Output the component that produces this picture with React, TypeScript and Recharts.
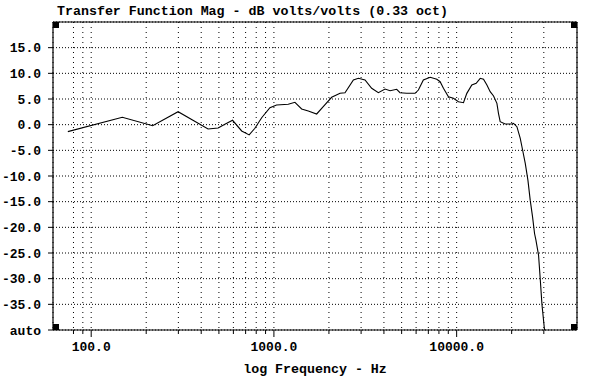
import {
  LineChart,
  Line,
  XAxis,
  YAxis,
  CartesianGrid,
  ReferenceLine,
  ReferenceDot,
} from 'recharts';

// frequency (Hz) and magnitude (dB)
const freqHz = [
  74.5, 148, 217, 299, 436, 495, 539, 594, 666, 732, 787, 857, 951, 1034, 1198,
  1303, 1418, 1542, 1714, 1862, 2070, 2301, 2449, 2722, 2899, 3152, 3428, 3729,
  4057, 4322, 4699, 4898, 5331, 5925, 6176, 6574, 7167, 7790, 8122, 8468, 9018,
  9605, 10230, 10900, 11370, 12108, 12790, 13460, 14030, 14643, 15260, 15923,
  16610, 16940, 17310, 18440, 20070, 20480, 21370, 22290, 22770, 23730, 24550,
  25270, 26020, 26690, 27160, 28070, 28680, 29300, 30170, 30500,
];
const magDb = [
  -1.35, 1.43, -0.2, 2.53, -0.85, -0.65, 0.07, 0.85, -1.23, -2.0, -0.7, 1.35,
  3.3, 3.83, 3.97, 4.36, 3.05, 2.66, 2.08, 3.5, 5.33, 6.11, 6.23, 8.7, 9.03,
  8.7, 7.08, 6.23, 6.94, 6.62, 6.89, 6.23, 6.11, 6.11, 6.75, 8.7, 9.23, 8.84,
  8.37, 7.08, 5.45, 5.13, 4.47, 4.28, 6.1, 7.73, 8.06, 9.03, 8.84, 7.73, 6.43,
  5.58, 4.16, 2.2, 0.58, 0.13, 0.13, 0.26, -0.4, -2.66, -4.3, -7.5, -10.8,
  -14.7, -17.9, -21.2, -22.5, -25.4, -30.1, -35, -39.5, -41,
];

const gridFreqs = [
  80, 90, 100, 200, 300, 400, 500, 600, 700, 800, 900, 1000, 2000, 3000, 4000,
  5000, 6000, 7000, 8000, 9000, 10000, 20000, 30000,
];
const labelFreqs = [100, 1000, 10000];
const dbTicks = [-40, -35, -30, -25, -20, -15, -10, -5, 0, 5, 10, 15];

const X_MIN = 61.8;
const X_MAX = 45570;
const Y_MIN = -40;
const Y_MAX = 20;

const data = freqHz.map((f, i) => ({ f, db: magDb[i] }));

const FONT = "'Liberation Mono', 'DejaVu Sans Mono', monospace";

const FreqTick = (props: any) => {
  const { x, y, payload } = props;
  const major = labelFreqs.includes(payload.value);
  return (
    <g>
      <line x1={x} x2={x} y1={y} y2={y + (major ? 7 : 4)} stroke='#000' />
      {major && (
        <text
          x={x}
          y={y + 21}
          textAnchor='middle'
          fill='#000'
          fontSize={13}
          fontWeight='bold'
          fontFamily={FONT}
        >
          {payload.value.toFixed(1)}
        </text>
      )}
    </g>
  );
};

const corner = (dx: number, dy: number) => (p: any) =>
  <rect x={p.cx + dx} y={p.cy + dy} width={6} height={6} fill='#000' />;

const App = () => {
  return (
    <div
      style={{
        position: 'absolute',
        left: 0,
        top: 0,
        width: 589,
        height: 384,
        background: '#fff',
      }}
    >
      <div
        style={{
          position: 'absolute',
          left: 57,
          top: 4,
          fontFamily: FONT,
          fontWeight: 'bold',
          fontSize: 13.3,
          color: '#000',
          whiteSpace: 'pre',
        }}
      >
        Transfer Function Mag - dB volts/volts (0.33 oct)
      </div>
      <LineChart
        width={589}
        height={384}
        data={data}
        margin={{ top: 22, right: 12, bottom: 0, left: 0 }}
      >
        <CartesianGrid
          vertical={false}
          stroke='#000'
          strokeDasharray='1 2'
        />
        <CartesianGrid
          horizontal={false}
          stroke='#000'
          strokeDasharray='1 4'
        />
        <XAxis
          dataKey='f'
          type='number'
          scale='log'
          domain={[X_MIN, X_MAX]}
          allowDataOverflow
          ticks={gridFreqs}
          interval={0}
          tick={<FreqTick />}
          tickLine={false}
          tickSize={0}
          tickMargin={0}
          height={54}
          axisLine={{ stroke: '#000', strokeWidth: 1.2 }}
          label={{
            value: 'log Frequency - Hz',
            position: 'insideBottom',
            offset: 11,
            fill: '#000',
            fontSize: 13.3,
            fontWeight: 'bold',
            fontFamily: FONT,
          }}
        />
        <YAxis
          type='number'
          domain={[Y_MIN, Y_MAX]}
          allowDataOverflow
          ticks={dbTicks}
          interval={0}
          width={53}
          tickSize={5}
          tickMargin={7}
          tickLine={{ stroke: '#000' }}
          axisLine={{ stroke: '#000', strokeWidth: 1.2 }}
          tickFormatter={(v: number) => (v === -40 ? 'auto' : v.toFixed(1))}
          tick={{
            fill: '#000',
            fontSize: 13,
            fontWeight: 'bold',
            fontFamily: FONT,
          }}
        />
        <ReferenceLine y={Y_MAX} stroke='#000' strokeWidth={1.2} />
        <ReferenceLine x={X_MAX} stroke='#000' strokeWidth={1.2} />
        <ReferenceDot x={X_MIN} y={Y_MAX} shape={corner(0, 0)} />
        <ReferenceDot x={X_MAX} y={Y_MAX} shape={corner(-6, 0)} />
        <ReferenceDot x={X_MIN} y={Y_MIN} shape={corner(0, -6)} />
        <ReferenceDot x={X_MAX} y={Y_MIN} shape={corner(-6, -6)} />
        <Line
          type='linear'
          dataKey='db'
          stroke='#000'
          strokeWidth={1.1}
          dot={false}
          isAnimationActive={false}
        />
      </LineChart>
    </div>
  );
};

export default App;
